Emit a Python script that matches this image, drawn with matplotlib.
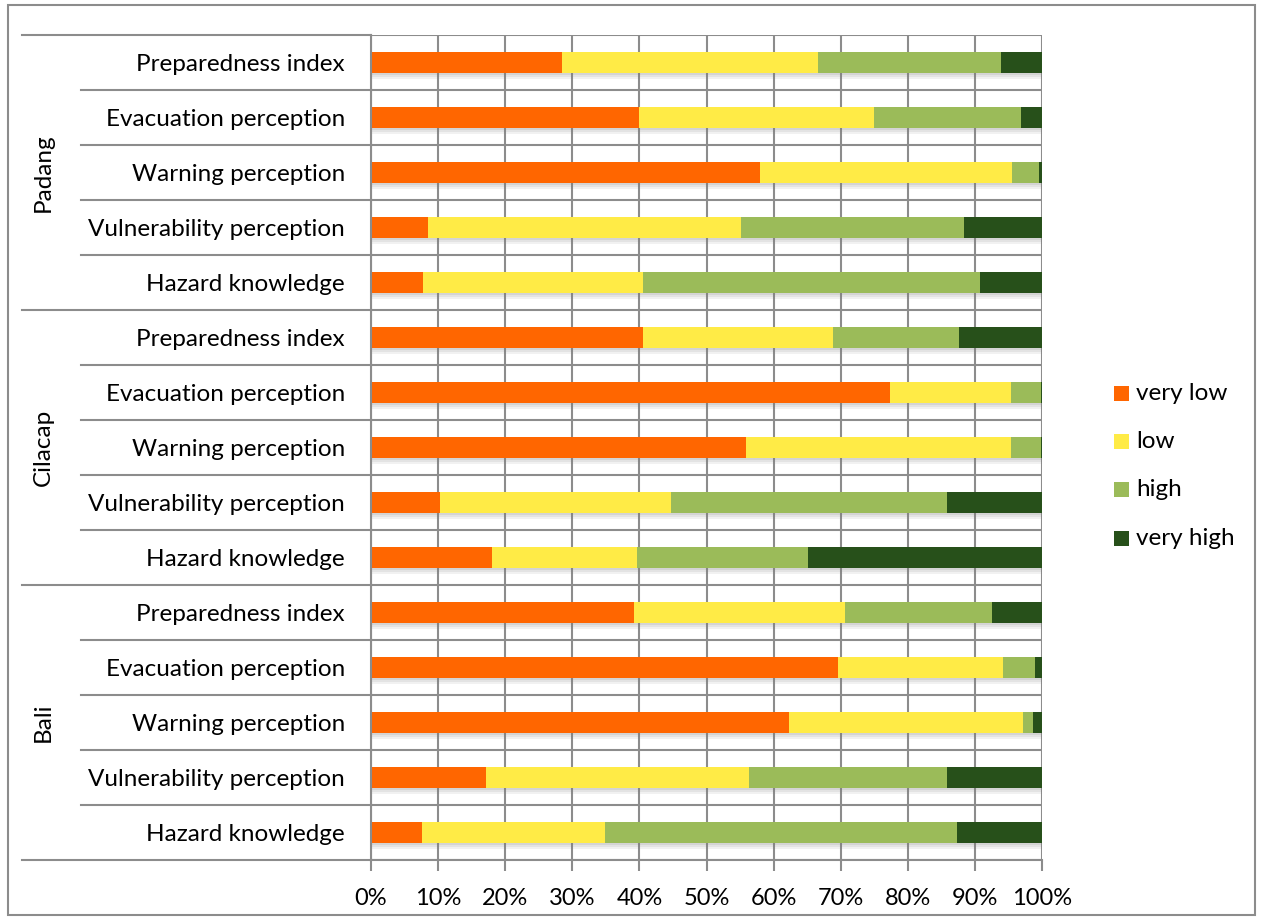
import matplotlib
matplotlib.use("Agg")
import matplotlib.pyplot as plt
from matplotlib.patches import Rectangle
from matplotlib.lines import Line2D
import numpy as np

plt.rcParams['font.family'] = ['Lato', 'DejaVu Sans']

# Survey results (percent of respondents per level)
groups = ["Padang", "Cilacap", "Bali"]
indicators = ["Preparedness index", "Evacuation perception", "Warning perception",
              "Vulnerability perception", "Hazard knowledge"]
levels = ["very low", "low", "high", "very high"]
colors = ["#FF6600", "#FFEB46", "#9BBB59", "#27501A"]

very_low = [28.5, 40.0, 58.0, 8.5, 7.7,
            40.5, 77.4, 55.9, 10.3, 18.1,
            39.2, 69.6, 62.3, 17.1, 7.6]
low = [38.1, 35.0, 37.5, 46.7, 32.8,
       28.3, 18.0, 39.5, 34.4, 21.6,
       31.4, 24.6, 34.9, 39.2, 27.2]
high = [27.3, 21.9, 4.1, 33.2, 50.2,
        18.9, 4.4, 4.4, 41.2, 25.4,
        22.0, 4.8, 1.4, 29.5, 52.5]
very_high = [6.1, 3.1, 0.4, 11.6, 9.3,
             12.3, 0.2, 0.2, 14.1, 34.9,
             7.4, 1.0, 1.4, 14.2, 12.7]

x_ticks = [0, 10, 20, 30, 40, 50, 60, 70, 80, 90, 100]
x_tick_labels = [f"{t}%" for t in x_ticks]

W, H = 1262, 921
fig = plt.figure(figsize=(W / 100, H / 100), dpi=100)
FS = 17.5

def fx(px):
    return px / W

def fy(py):
    return 1 - py / H

ax_left, ax_right, ax_top, ax_bottom = 371, 1042, 35, 860
ax = fig.add_axes([fx(ax_left), fy(ax_bottom), fx(ax_right - ax_left), (ax_bottom - ax_top) / H])

series = [np.array(very_low), np.array(low), np.array(high), np.array(very_high)]
totals = sum(series)
n = len(very_low)
y = np.arange(n)
bar_h = 0.39
grid_col = "#8C8C8C"

# Grid: vertical lines at each 10 %, horizontal lines between categories
for t in x_ticks:
    ax.axvline(t, color=grid_col, lw=1.5, zorder=0.5)
for b in np.arange(n + 1) - 0.5:
    ax.axhline(b, color=grid_col, lw=1.5, zorder=0.5)

# Soft drop shadow under each bar
for off, a in [(0.10, 0.10), (0.07, 0.12), (0.04, 0.15)]:
    ax.barh(y + off, totals, height=bar_h, left=0, color="#7F7F7F",
            alpha=a, linewidth=0, zorder=1)

left = np.zeros(n)
for vals, col, lab in zip(series, colors, levels):
    ax.barh(y, vals, height=bar_h, left=left, color=col, linewidth=0,
            zorder=2, label=lab)
    left = left + vals

ax.set_xlim(0, 100)
ax.set_ylim(n - 0.5, -0.5)
ax.set_xticks(x_ticks)
ax.set_xticklabels(x_tick_labels, fontsize=17)
ax.tick_params(axis="x", length=8, width=1.5, color=grid_col, pad=12)
ax.set_yticks(y)
ax.set_yticklabels(indicators * len(groups), fontsize=FS)
ax.tick_params(axis="y", length=0, pad=18.7)
for s in ["top", "right"]:
    ax.spines[s].set_visible(False)
for s in ["left", "bottom"]:
    ax.spines[s].set_color(grid_col)
    ax.spines[s].set_linewidth(1.5)

# Category separators in the label column
row_px = (ax_bottom - ax_top) / n
for i in range(n + 1):
    yy = ax_top + i * row_px
    x0 = 22 if i % 5 == 0 else 81
    fig.add_artist(Line2D([fx(x0), fx(ax_left)], [fy(yy), fy(yy)],
                          color=grid_col, lw=1.5))

# Group names, rotated
for g, name in enumerate(groups):
    yc = ax_top + (g * 5 + 2.5) * row_px
    fig.text(fx(43), fy(yc), name, rotation=90, ha="center", va="center",
             fontsize=FS)

# Legend
leg_y = [393.5, 441.5, 489.5, 538]
for lab, col, ly in zip(levels, colors, leg_y):
    fig.add_artist(Rectangle((fx(1114), fy(ly + 7.5)), fx(15), 15 / H,
                             facecolor=col, edgecolor="none"))
    fig.text(fx(1136), fy(ly), lab, ha="left", va="center", fontsize=FS)

# Outer frame
fig.add_artist(Rectangle((fx(8), fy(915)), fx(1247), 910 / H, fill=False,
                         edgecolor="#8C8C8C", lw=1.5))

fig.savefig("out.png", dpi=100)
